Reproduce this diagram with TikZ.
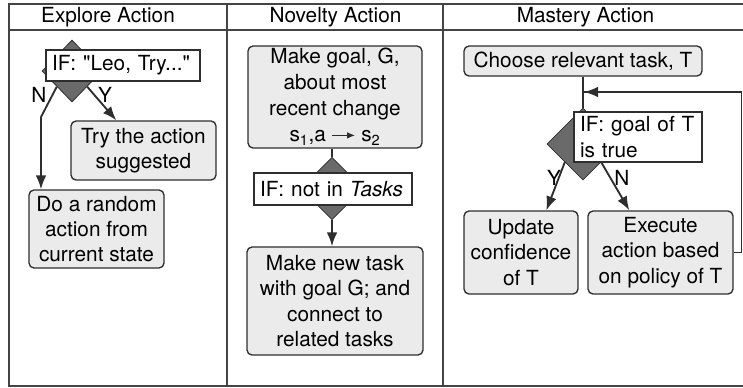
\documentclass[tikz,border=0pt]{standalone}
\usepackage{fontspec}
\setmainfont{TeX Gyre Heros}[Ligatures=TeXOff]
\usetikzlibrary{shapes.geometric,arrows.meta,calc}
\definecolor{boxfill}{HTML}{EBEBEB}
\definecolor{edge}{HTML}{2E2E2E}
\definecolor{dia}{HTML}{6A6A6A}
\definecolor{framec}{HTML}{444444}
\begin{document}
\begin{tikzpicture}[x=0.75pt,y=-0.75pt,
  font=\fontsize{15.6}{19}\selectfont,
  box/.style={draw=edge,fill=boxfill,rounded corners=3.75pt,line width=1pt,align=center,inner sep=0pt},
  ifbox/.style={draw=edge,fill=white,line width=1pt,align=left,inner ysep=0pt,inner xsep=4.5pt},
  dmd/.style={diamond,draw=edge,fill=dia,line width=0.6pt,inner sep=0pt},
  arr/.style={draw=edge,line width=1.4pt,-{Latex[length=10.5pt,width=8pt]}},
  ln/.style={draw=edge,line width=1.4pt},
  lbl/.style={inner sep=0pt},
  hdr/.style={inner sep=0pt,anchor=base},
  framel/.style={draw=framec,line width=0.9pt}]
\useasboundingbox (0,0) rectangle (743,387);
% frame
\draw[framel] (743,4) -- (9,4) -- (9,386) -- (743,386);
\draw[framel] (9,30) -- (743,30);
\draw[framel] (227,4) -- (227,386);
\draw[framel] (443,4) -- (443,386);
% headers
\node[hdr] (h1) at (108,22) {Explore Action};
\node[hdr] (h2) at (335.5,22) {Novelty Action};
\node[hdr] (h3) at (585.5,22) {Mastery Action};
% Explore
\node[dmd,minimum width=45pt,minimum height=46.5pt] (d1) at (72,71) {};
\node[ifbox,minimum height=23.25pt,text width=106.5pt] (if1) at (123,65.5) {IF: "Leo, Try..."};
\node[box,minimum width=108.75pt,minimum height=44.25pt] (try) at (143.5,150.5) {Try the action\\suggested};
\node[box,minimum width=101.25pt,minimum height=58.5pt] (rand) at (96.5,229) {Do a random\\action from\\current state};
\coordinate (nb) at (41,117);
\draw[arr] (d1.south east) -- ($(try.north west)+(46,0)$);
\draw[ln] (d1.south west) -- (nb);
\draw[arr] (nb) -- (nb |- rand.north);
\node[lbl] (n1) at (39,95) {N};
\node[lbl] (y1) at (105,95) {Y};
% Novelty
\node[box,minimum width=130.5pt,minimum height=76.5pt,font=\fontsize{15.6}{19.5}\selectfont] (goal) at (335,97) {Make goal, G,\\about most\\recent change\\s\textsubscript{1},a \tikz[baseline=-0.6ex]\draw[edge,line width=0.8pt,-{Latex[length=6pt,width=5pt]}] (0pt,0pt) -- (17pt,0pt); s\textsubscript{2}};
\node[dmd,minimum width=47pt,minimum height=47pt] (d2) at (332,188.5) {};
\node[ifbox,minimum height=24pt,text width=109.5pt] (if2) at (333,189) {IF: not in \textit{Tasks}};
\node[box,minimum width=132pt,minimum height=81pt] (newt) at (335,301) {Make new task\\with goal G; and\\connect to\\related tasks};
\draw[ln] (d2.north |- goal.south) -- (d2.north);
\draw[arr] (d2.south) -- (d2.south |- newt.north);
% Mastery
\node[box,minimum width=178.5pt,minimum height=22.5pt] (choose) at (583,61) {Choose relevant task, T};
\node[dmd,minimum width=54pt,minimum height=54pt] (d3) at (583,144) {};
\node[ifbox,minimum height=37.5pt,text width=87pt] (if3) at (638,137) {IF: goal of T\\is true};
\node[box,minimum width=85.5pt,minimum height=62.25pt] (upd) at (521,252.5) {Update\\confidence\\of T};
\node[box,minimum width=108.75pt,minimum height=62.25pt] (exe) at (660.5,252.5) {Execute\\action based\\on policy of T};
\draw[ln] (choose.south) -- (d3.north);
\coordinate (fb1) at (741.5,252.5);
\coordinate (fb2) at (741.5,92);
\coordinate (fb3) at (584,92);
\draw[draw=edge,line width=1pt] (exe.east) -- (fb1) -- (fb2) -- (fb3);
\draw[arr] (fb2) -- (fb3);
\draw[arr] (d3.south west) -- ($(upd.north west)+(83,0)$);
\draw[arr] (d3.south east) -- ($(exe.north west)+(42,0)$);
\node[lbl] (y3) at (554,177.5) {Y};
\node[lbl] (n3) at (622,177.5) {N};
\end{tikzpicture}
\end{document}
